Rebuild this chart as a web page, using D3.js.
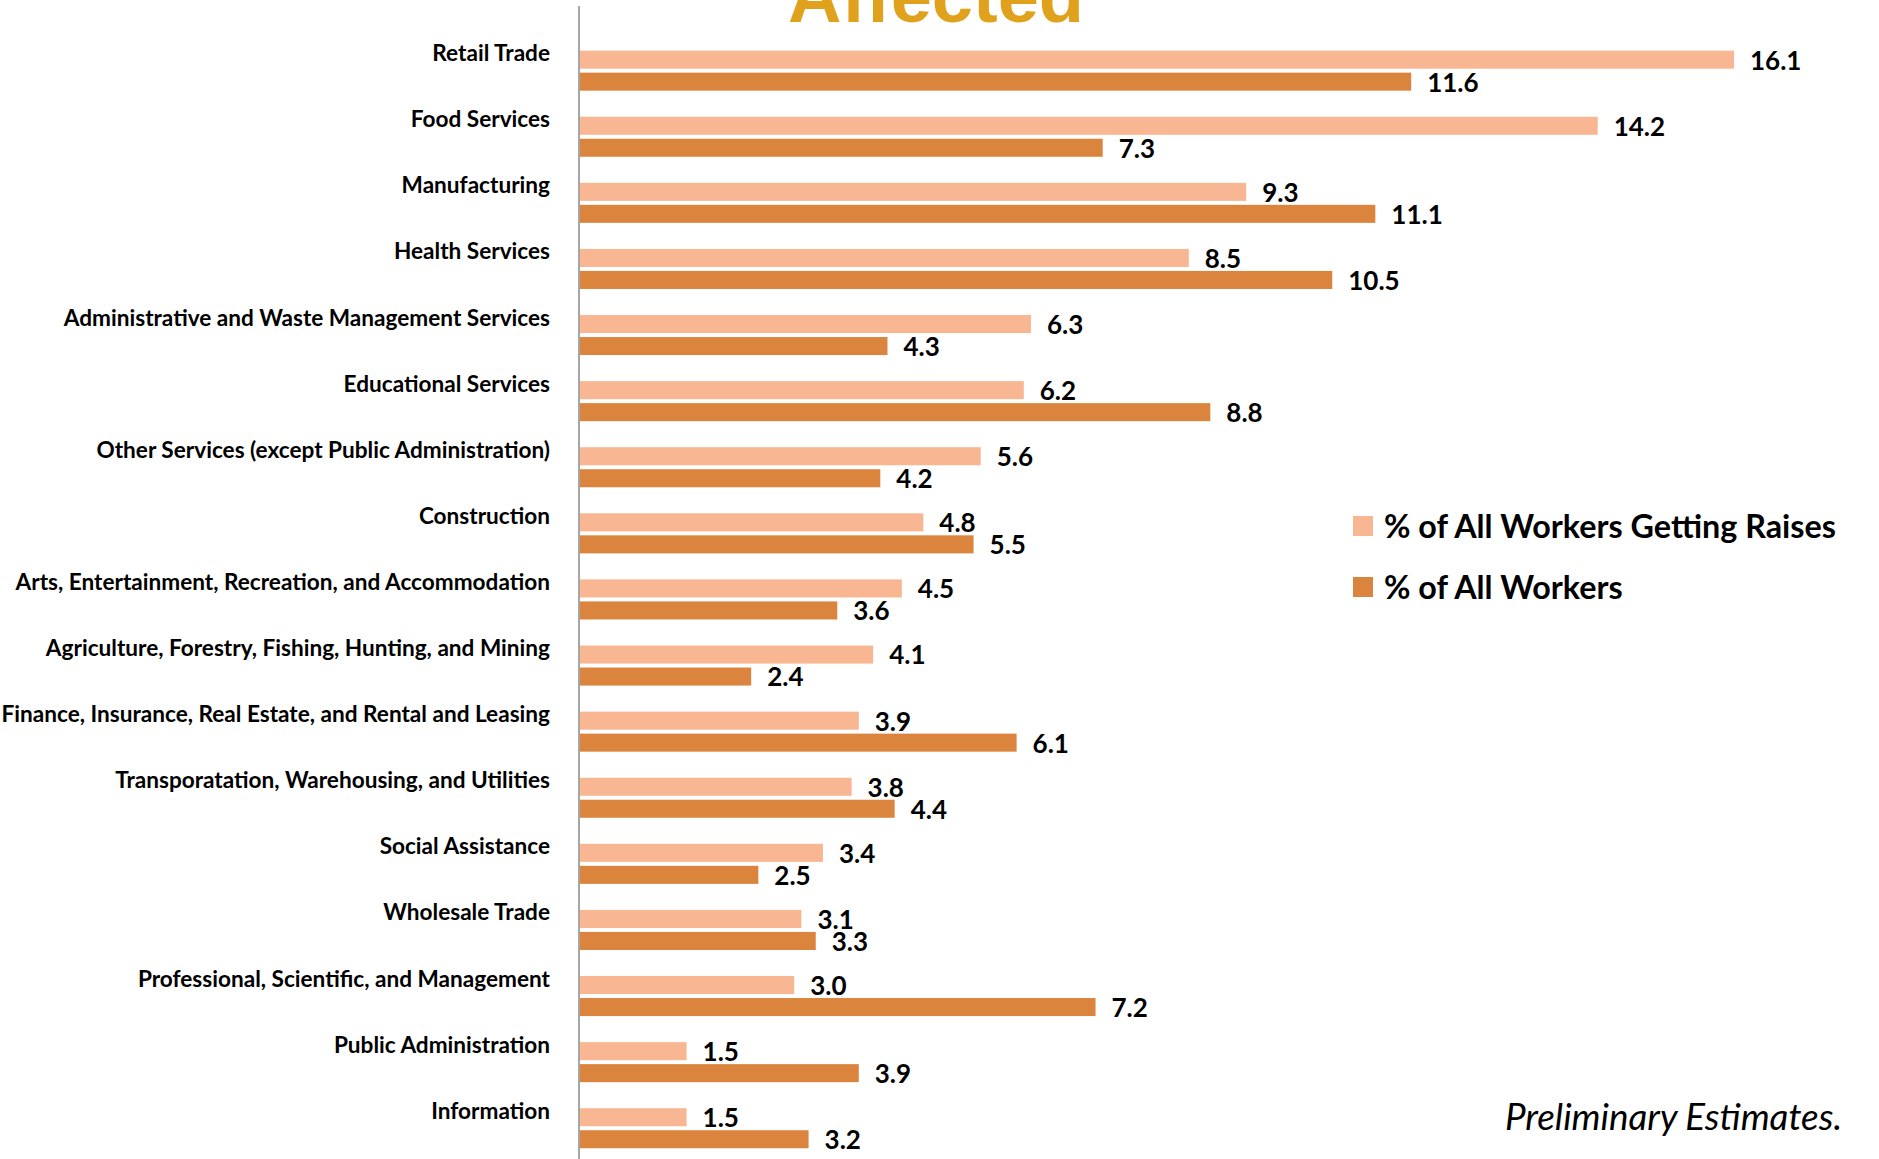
<!DOCTYPE html>
<html>
<head>
<meta charset="utf-8">
<script src="https://cdn.jsdelivr.net/npm/d3@7"></script>
<style>
  body { margin: 0; background: #fff; }
  svg { display: block; }
</style>
</head>
<body>
<div id="chart"></div>
<script>
// CHART DATA
const categories = [
  "Retail Trade",
  "Food Services",
  "Manufacturing",
  "Health Services",
  "Administrative and Waste Management Services",
  "Educational Services",
  "Other Services (except Public Administration)",
  "Construction",
  "Arts, Entertainment, Recreation, and Accommodation",
  "Agriculture, Forestry, Fishing, Hunting, and Mining",
  "Finance, Insurance, Real Estate, and Rental and Leasing",
  "Transporatation, Warehousing, and Utilities",
  "Social Assistance",
  "Wholesale Trade",
  "Professional, Scientific, and Management",
  "Public Administration",
  "Information"
];
const raisesPct = [16.1, 14.2, 9.3, 8.5, 6.3, 6.2, 5.6, 4.8, 4.5, 4.1, 3.9, 3.8, 3.4, 3.1, 3.0, 1.5, 1.5];
const workersPct = [11.6, 7.3, 11.1, 10.5, 4.3, 8.8, 4.2, 5.5, 3.6, 2.4, 6.1, 4.4, 2.5, 3.3, 7.2, 3.9, 3.2];
const seriesNames = ["% of All Workers Getting Raises", "% of All Workers"];
const seriesColors = ["#F8B692", "#DB843D"];

// SIZE
const w = 1879;
const h = 1159;
const axisX = 579;

const svg = d3.select("#chart").append("svg").attr("width", w).attr("height", h);

// SCALES
const x = d3.scaleLinear().domain([0, 18]).range([axisX, axisX + 18 * 71.74]);
const y = d3.scaleBand().domain(categories).range([37.6, 37.6 + 17 * 66.1]);
const sub = d3.scaleBand()
  .domain([0, 1])
  .range([y.bandwidth() / 2 - 22, y.bandwidth() / 2 + 22])
  .paddingInner(0.18)
  .paddingOuter(0.09);

// TITLE (cut off at the top)
svg.append("text")
  .attr("x", 936)
  .attr("y", 22)
  .attr("text-anchor", "middle")
  .style("font-family", "'Liberation Sans', Arial, sans-serif")
  .style("font-weight", "bold")
  .style("font-size", "74px")
  .style("fill", "#E0A21C")
  .text("Affected");

// ROWS
const rows = categories.map((c, i) => ({ cat: c, vals: [raisesPct[i], workersPct[i]] }));

const group = svg.selectAll(".row")
  .data(rows)
  .enter()
  .append("g")
  .attr("class", "row")
  .attr("transform", (d) => "translate(0," + y(d.cat) + ")");

group.selectAll("rect")
  .data((d) => d.vals.map((v, k) => ({ v: v, k: k })))
  .enter()
  .append("rect")
  .attr("x", x(0))
  .attr("y", (d) => sub(d.k))
  .attr("width", (d) => x(d.v) - x(0))
  .attr("height", sub.bandwidth())
  .style("fill", (d) => seriesColors[d.k]);

group.selectAll(".val")
  .data((d) => d.vals.map((v, k) => ({ v: v, k: k })))
  .enter()
  .append("text")
  .attr("class", "val")
  .attr("x", (d) => x(d.v) + 16)
  .attr("y", (d) => sub(d.k) + sub.bandwidth() / 2)
  .attr("dy", "0.38em")
  .style("font-family", "Lato, sans-serif")
  .style("font-weight", "bold")
  .style("font-size", "26px")
  .style("fill", "#000")
  .text((d) => d.v.toFixed(1));

// CATEGORY AXIS
const yAxis = d3.axisLeft(y).tickSize(0).tickPadding(29);
const gy = svg.append("g").attr("transform", "translate(" + axisX + ",0)").call(yAxis);
gy.select(".domain").remove();
gy.selectAll(".tick text")
  .attr("dy", "-0.42em")
  .style("font-family", "Lato, sans-serif")
  .style("font-weight", "bold")
  .style("font-size", "22.6px")
  .style("fill", "#000");

svg.append("line")
  .attr("x1", axisX).attr("x2", axisX)
  .attr("y1", 6).attr("y2", h)
  .style("stroke", "#A6A6A6")
  .style("stroke-width", 2);

// LEGEND
const legend = svg.append("g").attr("transform", "translate(1353,0)");
const legendY = [526, 587];
seriesNames.forEach((name, k) => {
  legend.append("rect")
    .attr("x", 0)
    .attr("y", legendY[k] - 10)
    .attr("width", 20)
    .attr("height", 20)
    .style("fill", seriesColors[k]);
  legend.append("text")
    .attr("x", 31)
    .attr("y", legendY[k])
    .attr("dy", "0.36em")
    .style("font-family", "Lato, sans-serif")
    .style("font-weight", "bold")
    .style("font-size", "32.3px")
    .text(name);
});

// NOTE
svg.append("text")
  .attr("x", 1842)
  .attr("y", 1117)
  .attr("dy", "0.36em")
  .attr("text-anchor", "end")
  .style("font-family", "Lato, sans-serif")
  .style("font-style", "italic")
  .style("font-size", "36.8px")
  .text("Preliminary Estimates.");
</script>
</body>
</html>
